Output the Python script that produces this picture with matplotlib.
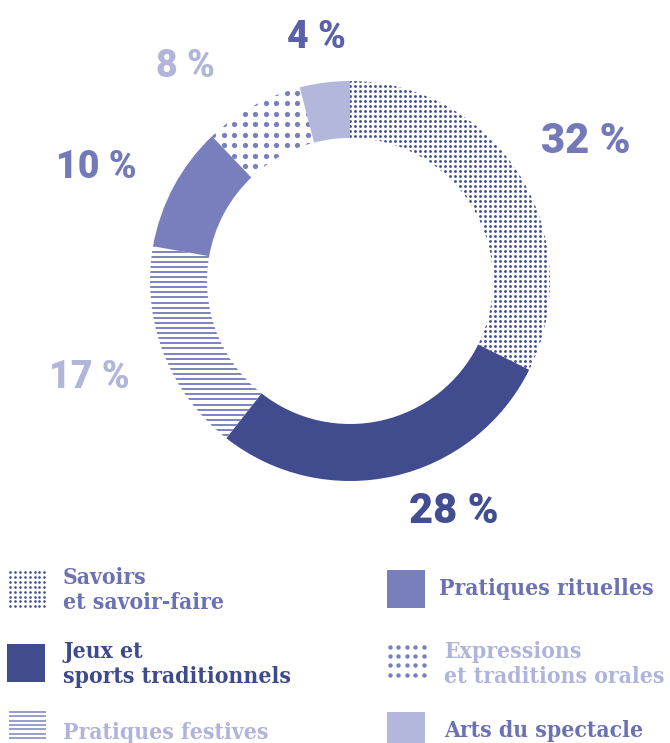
import numpy as np
import matplotlib
matplotlib.use('Agg')
import matplotlib.pyplot as plt
from matplotlib.patches import Rectangle

# data
categories = ['Savoirs\net savoir-faire', 'Jeux et\nsports traditionnels', 'Pratiques festives',
              'Pratiques rituelles', 'Expressions\net traditions orales', 'Arts du spectacle']
shares = [32, 28, 17, 10, 8, 4]

DARK = '#414c8f'
MID = '#797ebc'
LIGHT = '#b4b7dc'
LINE = '#7d83bf'

ring_fill = ['dots', DARK, 'lines', MID, 'bigdots', LIGHT]
label_colors = ['#7479b8', '#434e92', '#b2b5da', '#7479b8', '#b2b5da', '#5b61a9']
label_pos = [(586, 153), (454, 523), (89, 388), (96, 178), (185, 77), (316, 48)]
label_size = [30, 30, 27, 27, 27, 27]
legend_colors = ['#6b71b3', '#3f4a8c', '#b0b4da', '#6b71b3', '#b0b4da', '#6b71b3']

W, H = 670, 743
fig = plt.figure(figsize=(W / 100, H / 100), dpi=100)

# donut, centre (350, 281) px, outer radius 200 px
cx, cy, R = 350, 281, 200
ax = fig.add_axes([(cx - R) / W, (H - cy - R) / H, 2 * R / W, 2 * R / H])
wedges, _ = ax.pie(shares, radius=1, startangle=90, counterclock=False,
                   wedgeprops=dict(width=57 / R, linewidth=0))
ax.set_xlim(-1, 1)
ax.set_ylim(-1, 1)
ax.axis('off')

px = 1 / R  # one pixel in pie units
for w, fill in zip(wedges, ring_fill):
    if fill == 'dots':
        w.set_facecolor('none')
        g = np.arange(-1, 1.001, 5 * px)
        gx, gy = np.meshgrid(g, g)
        sc = ax.scatter(gx.ravel(), gy.ravel(), s=4.2, color=DARK, linewidths=0)
        sc.set_clip_path(w)
    elif fill == 'bigdots':
        w.set_facecolor('none')
        g = np.arange(-1, 1.001, 10.5 * px)
        gx, gy = np.meshgrid(g, g)
        sc = ax.scatter(gx.ravel(), gy.ravel(), s=14, color=MID, linewidths=0)
        sc.set_clip_path(w)
    elif fill == 'lines':
        w.set_facecolor('none')
        ys = np.arange(-1, 1.001, 5.1 * px)
        lc = ax.hlines(ys, -1, 1, color=LINE, linewidth=1.4)
        lc.set_clip_path(w)
    else:
        w.set_facecolor(fill)

# overlay in pixel coordinates
ov = fig.add_axes([0, 0, 1, 1])
ov.set_xlim(0, W)
ov.set_ylim(H, 0)
ov.axis('off')
ov.patch.set_alpha(0)

for v, (x, y), c, fs in zip(shares, label_pos, label_colors, label_size):
    ov.text(x, y, f'{v} %', ha='center', va='baseline', color=c,
            fontsize=fs, fontfamily='Roboto', fontweight='black')

# legend icons
def dot_icon(x0, y0, nx, ny, dx, dy, s, color):
    xs = x0 + dx * np.arange(nx)
    ys = y0 + dy * np.arange(ny)
    gx, gy = np.meshgrid(xs, ys)
    ov.scatter(gx.ravel(), gy.ravel(), s=s, color=color, linewidths=0)

dot_icon(10, 572, 8, 8, 4.9, 4.9, 3.5, DARK)
ov.add_patch(Rectangle((7, 644), 38, 38, color=DARK, lw=0))
ov.hlines(712 + 4.3 * np.arange(7), 9, 46, color=LINE, linewidth=1.1)
ov.add_patch(Rectangle((387, 570), 38, 38, color=MID, lw=0))
dot_icon(390, 647, 5, 4, 8.4, 9.2, 10, MID)
ov.add_patch(Rectangle((387, 712), 38, 38, color=LIGHT, lw=0))

# baseline of the last line of each legend entry
legend_xy = [(63, 609), (63, 683), (63, 739), (439, 595), (444, 683), (444, 737)]
for name, (x, y), c in zip(categories, legend_xy, legend_colors):
    ov.text(x, y, name, ha='left', va='baseline', color=c, fontsize=16.4,
            fontfamily='DejaVu Serif', fontweight='bold', fontstretch='condensed',
            linespacing=1.2)

fig.savefig('out.png', dpi=100)
